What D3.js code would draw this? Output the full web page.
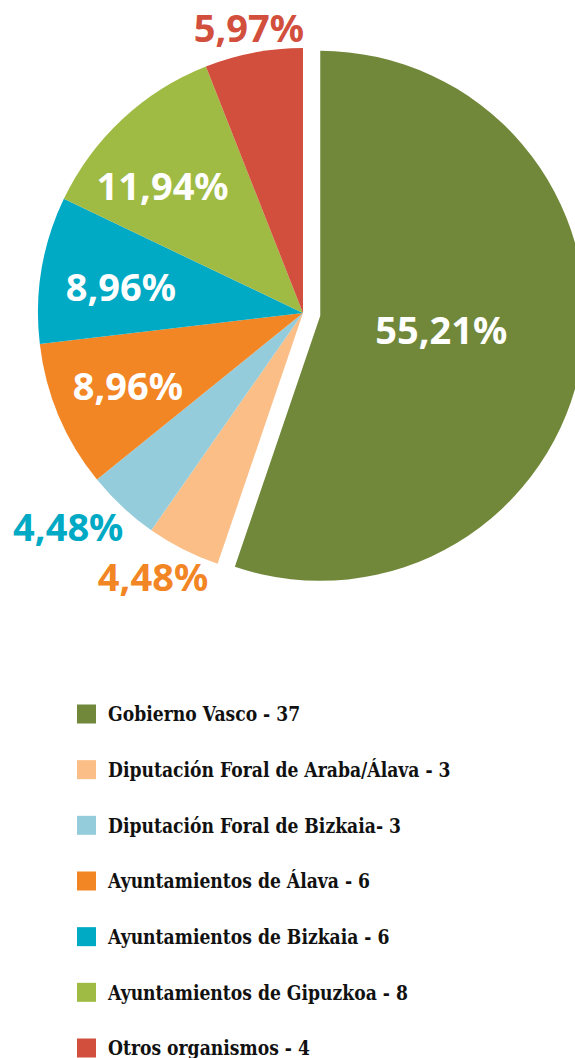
<!DOCTYPE html>
<html>
<head>
<meta charset="utf-8">
<script src="https://cdn.jsdelivr.net/npm/d3@7"></script>
<style>
  html, body { margin: 0; padding: 0; background: #fff; }
  svg { display: block; }
</style>
</head>
<body>
<div id="chart"></div>
<script>
const width = 575;
const height = 1058;

const categories = [
    "Gobierno Vasco",
    "Diputación Foral de Araba/Álava",
    "Diputación Foral de Bizkaia",
    "Ayuntamientos de Álava",
    "Ayuntamientos de Bizkaia",
    "Ayuntamientos de Gipuzkoa",
    "Otros organismos"
];
const counts = [37, 3, 3, 6, 6, 8, 4];
const percentLabels = ["55,21%", "4,48%", "4,48%", "8,96%", "8,96%", "11,94%", "5,97%"];
const legendLabels = [
    "Gobierno Vasco - 37",
    "Diputación Foral de Araba/Álava - 3",
    "Diputación Foral de Bizkaia- 3",
    "Ayuntamientos de Álava - 6",
    "Ayuntamientos de Bizkaia - 6",
    "Ayuntamientos de Gipuzkoa - 8",
    "Otros organismos - 4"
];

const colors = ["#71883a", "#fbbe87", "#95ccdc", "#f28524", "#00a9c4", "#a0bb44", "#d24e3d"];
const labelColors = ["#ffffff", "#f28524", "#00a9c4", "#ffffff", "#ffffff", "#ffffff", "#d24e3d"];

const cx = 303;
const cy = 313;
const radius = 265;
const explode = 17.5;

// label placement: radius as a share of the pie radius, and a small angle nudge (degrees)
const labelRadius = [0.46, 1.147, 1.2, 0.717, 0.694, 0.713, 1.094];
const labelNudge = [-2.5, 2.7, 4.6, 0, -1.4, -5, 0];

const svg = d3.select("#chart")
    .append("svg")
    .attr("width", width)
    .attr("height", height);

const data = categories.map((c, i) => ({ name: c, value: counts[i], i: i }));

const pie = d3.pie()
    .value(d => d.value)
    .sort(null);

const arcs = pie(data);

const arc = d3.arc()
    .innerRadius(0)
    .outerRadius(radius);

const g = svg.append("g")
    .attr("transform", `translate(${cx},${cy})`);

function polar(a, dist) {
    return [Math.sin(a) * dist, -Math.cos(a) * dist];
}

const mid = d => (d.startAngle + d.endAngle) / 2;

g.selectAll("path")
    .data(arcs)
    .join("path")
    .attr("d", arc)
    .attr("fill", (d, i) => colors[i])
    .attr("transform", (d, i) => {
        if (i !== 0) return null;
        const [dx, dy] = polar(mid(d), explode);
        return `translate(${dx},${dy})`;
    });

function labelPos(d, i) {
    const a = mid(d) + labelNudge[i] * Math.PI / 180;
    const p = polar(a, radius * labelRadius[i]);
    if (i === 0) {
        const o = polar(mid(d), explode);
        p[0] += o[0];
        p[1] += o[1];
    }
    return p;
}

g.selectAll("text.pct")
    .data(arcs)
    .join("text")
    .attr("class", "pct")
    .attr("x", (d, i) => labelPos(d, i)[0])
    .attr("y", (d, i) => labelPos(d, i)[1])
    .attr("dy", "0.36em")
    .attr("text-anchor", "middle")
    .attr("fill", (d, i) => labelColors[i])
    .attr("font-family", "'Noto Sans', 'Open Sans', sans-serif")
    .attr("font-weight", 700)
    .attr("font-size", 38)
    .text((d, i) => percentLabels[i]);

// legend
const legendY = d3.scalePoint()
    .domain(d3.range(categories.length))
    .range([714, 1048]);

const legend = svg.append("g")
    .selectAll("g")
    .data(data)
    .join("g")
    .attr("transform", d => `translate(77,${legendY(d.i)})`);

legend.append("rect")
    .attr("x", 0)
    .attr("y", -9.5)
    .attr("width", 19)
    .attr("height", 19)
    .attr("fill", d => colors[d.i]);

legend.append("text")
    .attr("transform", "translate(31,0) scale(0.86,1)")
    .attr("dy", "0.36em")
    .attr("fill", "#111")
    .attr("font-family", "'DejaVu Serif', serif")
    .attr("font-weight", 700)
    .attr("font-size", 20)
    .text(d => legendLabels[d.i]);
</script>
</body>
</html>
